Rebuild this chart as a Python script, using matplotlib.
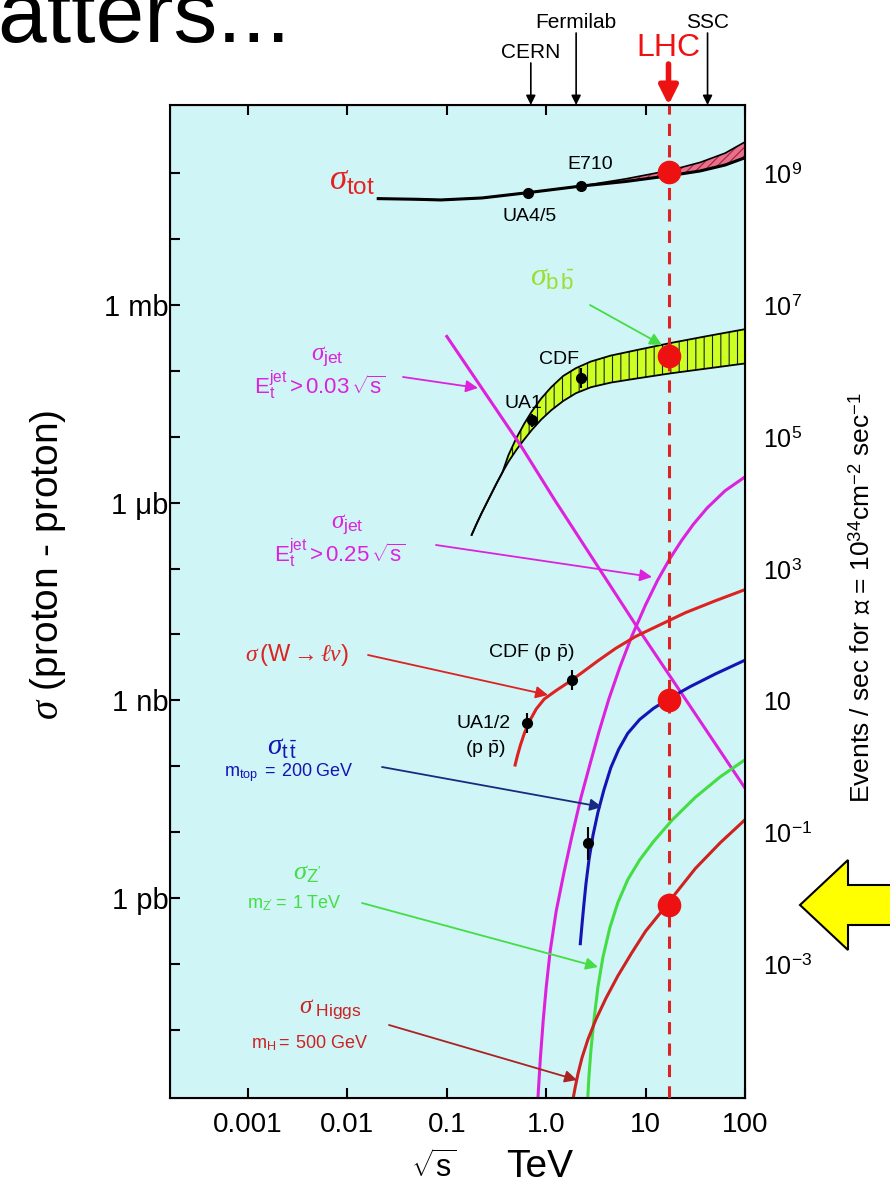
import numpy as np
import matplotlib.pyplot as plt
from matplotlib.patches import Polygon, FancyArrowPatch

plt.rcParams['font.family'] = ['Liberation Sans', 'STIXGeneral', 'DejaVu Sans']
plt.rcParams['mathtext.fontset'] = 'custom'
plt.rcParams['mathtext.rm'] = 'Liberation Sans'
plt.rcParams['mathtext.sf'] = 'Liberation Sans'
plt.rcParams['mathtext.it'] = 'Liberation Serif:italic'
plt.rcParams['mathtext.bf'] = 'Liberation Sans:bold'
plt.rcParams['hatch.linewidth'] = 0.8

W, H = 890, 1187

# collider energies (TeV) shown on top
colliders = ["CERN", "Fermilab", "LHC", "SSC"]
collider_E = [0.7, 2.0, 17.0, 42.0]

# all curves: log10(sqrt(s)/TeV) and log10(events/sec at L=1e34)
tot_lx = [-1.69, -1.3, -1.06, -0.646, -0.187, 0.347, 0.8, 1.25, 1.55, 1.8, 2.0]
tot_lo = [8.61, 8.60, 8.59, 8.62, 8.70, 8.80, 8.87, 8.96, 9.03, 9.12, 9.23]
tot_hi = [8.61, 8.60, 8.59, 8.62, 8.70, 8.80, 8.91, 9.04, 9.16, 9.30, 9.47]

bb_lx = [-0.75, -0.70, -0.65, -0.60, -0.55, -0.50, -0.44, -0.38, -0.30, -0.22, -0.146, -0.05, 0.05,
         0.17, 0.30, 0.45, 0.65, 0.90, 1.25, 1.6, 2.0]
bb_lo = [3.51, 3.68, 3.84, 3.99, 4.14, 4.29, 4.46, 4.62, 4.80, 4.96, 5.10, 5.26, 5.40,
         5.54, 5.66, 5.75, 5.82, 5.88, 5.96, 6.03, 6.11]
bb_hi = [3.51, 3.68, 3.84, 3.99, 4.14, 4.29, 4.46, 4.72, 4.98, 5.20, 5.38, 5.58, 5.75,
         5.92, 6.04, 6.14, 6.23, 6.31, 6.42, 6.52, 6.63]

jet1_lx = [-1.0, -0.25, 0.085, 0.92, 2.0]
jet1_ly = [6.52, 4.85, 4.04, 2.10, -0.33]

jet2_lx = [-0.083, -0.06, -0.03, 0.0, 0.04, 0.1, 0.18, 0.26, 0.35, 0.44, 0.53, 0.63, 0.74, 0.86,
           1.0, 1.12, 1.24, 1.36, 1.48, 1.62, 1.8, 2.0]
jet2_ly = [-5.03, -4.45, -3.85, -3.35, -2.80, -2.20, -1.60, -1.05, -0.47, 0.03, 0.52, 1.02, 1.50, 1.97,
           2.45, 2.82, 3.14, 3.42, 3.67, 3.92, 4.18, 4.39]

w_lx = [-0.313, -0.29, -0.26, -0.22, -0.17, -0.10, -0.02, 0.10, 0.22, 0.35, 0.52, 0.70, 0.90,
        1.15, 1.4, 1.7, 2.0]
w_ly = [0.02, 0.16, 0.32, 0.50, 0.68, 0.87, 1.02, 1.15, 1.27, 1.41, 1.60, 1.79, 1.97,
        2.15, 2.33, 2.51, 2.68]

tt_lx = [0.343, 0.36, 0.38, 0.40, 0.43, 0.47, 0.52, 0.58, 0.65, 0.73, 0.82, 0.94, 1.08, 1.25,
         1.45, 1.7, 2.0]
tt_ly = [-2.69, -2.40, -2.08, -1.78, -1.42, -1.05, -0.70, -0.36, -0.02, 0.26, 0.50, 0.71, 0.88, 1.04,
         1.21, 1.40, 1.61]

zp_lx = [0.418, 0.43, 0.45, 0.48, 0.52, 0.57, 0.64, 0.72, 0.82, 0.94, 1.08, 1.27, 1.5, 1.75, 2.0]
zp_ly = [-5.03, -4.70, -4.30, -3.85, -3.35, -2.90, -2.45, -2.07, -1.72, -1.42, -1.14, -0.81, -0.47,
         -0.16, 0.10]

hig_lx = [0.272, 0.29, 0.32, 0.36, 0.42, 0.50, 0.60, 0.72, 0.86, 1.0, 1.15, 1.3, 1.5, 1.75, 2.0]
hig_ly = [-5.03, -4.88, -4.66, -4.42, -4.14, -3.84, -3.52, -3.18, -2.83, -2.50, -2.22, -1.93, -1.55,
          -1.16, -0.81]

# measurements (UA4/5, E710, UA1, CDF, UA1/2, CDF W, CDF top)
pts_lx = [-0.187, 0.347, -0.146, 0.355, -0.195, 0.264, 0.418]
pts_ly = [8.70, 8.80, 5.25, 5.89, 0.66, 1.31, -1.17]
pts_err = [0.0, 0.0, 0.1, 0.15, 0.15, 0.15, 0.25]

# LHC points on tot, bb, tt, Higgs
lhc_ly = [9.02, 6.22, 1.01, -2.10]

left_ticks = [7, 4, 1, -2]
left_labels = ["1 mb", "1 \u03bcb", "1 nb", "1 pb"]
right_ticks = [9, 7, 5, 3, 1, -1, -3]
right_labels = [r"10$^{9}$", r"10$^{7}$", r"10$^{5}$", r"10$^{3}$", "10", r"10$^{-1}$", r"10$^{-3}$"]
x_ticks = [0.001, 0.01, 0.1, 1.0, 10, 100]
x_labels = ["0.001", "0.01", "0.1", "1.0", "10", "100"]


def p(a):
    return 10 ** np.array(a, dtype=float)


def fx(x, y):
    # pixel (from top-left) -> figure fraction
    return x / W, 1 - y / H


fig = plt.figure(figsize=(W / 100, H / 100), dpi=100)
ax = fig.add_axes([170 / W, 1 - 1098 / H, 575 / W, (1098 - 105) / H])
ax.set_facecolor('#cff5f7')
ax.set_xscale('log')
ax.set_yscale('log')
ax.set_xlim(10 ** -3.785, 100)
ax.set_ylim(10 ** -5.03, 10 ** 10.03)

# sigma tot band
ax.fill_between(p(tot_lx), p(tot_lo), p(tot_hi), facecolor='#e8708a', edgecolor='#a02040',
                hatch='////', linewidth=0)
ax.plot(p(tot_lx), p(tot_lo), color='black', lw=2.2)
ax.plot(p(tot_lx), p(tot_hi), color='black', lw=1.2)

# b bbar band
ax.fill_between(p(bb_lx), p(bb_lo), p(bb_hi), facecolor='#ccff22', edgecolor='#222222',
                hatch='||', linewidth=0)
ax.plot(p(bb_lx), p(bb_lo), color='black', lw=1.3)
ax.plot(p(bb_lx), p(bb_hi), color='black', lw=1.3)

ax.plot(p(jet1_lx), p(jet1_ly), color='#dd22dd', lw=2.2)
ax.plot(p(jet2_lx), p(jet2_ly), color='#dd22dd', lw=2.2)
ax.plot(p(w_lx), p(w_ly), color='#dd2222', lw=2.2)
ax.plot(p(tt_lx), p(tt_ly), color='#1515b5', lw=2.2)
ax.plot(p(zp_lx), p(zp_ly), color='#44dd44', lw=2.2)
ax.plot(p(hig_lx), p(hig_ly), color='#cc2222', lw=2.2)

# LHC line and dots
lhc = collider_E[2]
ax.axvline(lhc, color='#dd2222', lw=2.2, ls=(0, (4, 3)), zorder=4)
ax.plot([lhc] * len(lhc_ly), p(lhc_ly), 'o', color='#ee1111', ms=16, zorder=5)

# measurements
px_ = p(pts_lx)
py_ = p(pts_ly)
lo = py_ - p(np.array(pts_ly) - np.array(pts_err))
hi = p(np.array(pts_ly) + np.array(pts_err)) - py_
ax.errorbar(px_, py_, yerr=[lo, hi], fmt='o', color='black', ms=7, elinewidth=1.5,
            capsize=0, zorder=6)

# ticks
ax.set_xticks(x_ticks, labels=x_labels)
ax.minorticks_off()
ylabs = []
for k in range(-4, 10):
    ylabs.append(left_labels[left_ticks.index(k)] if k in left_ticks else "")
ax.set_yticks(p(list(range(-4, 10))), labels=ylabs)
ax.tick_params(axis='both', which='major', direction='in', length=7, width=1.5,
               top=True, right=True)
ax.tick_params(axis='x', labelsize=20, pad=10)
ax.tick_params(axis='y', labelsize=21, pad=1)
for s in ax.spines.values():
    s.set_linewidth(1.5)

ax2 = ax.twinx()
ax2.set_yscale('log')
ax2.set_ylim(ax.get_ylim())
rl = []
for k in range(-4, 10):
    rl.append(right_labels[right_ticks.index(k)] if k in right_ticks else "")
ax2.set_yticks(p(list(range(-4, 10))), labels=rl)
ax2.minorticks_off()
ax2.tick_params(axis='y', direction='in', length=0, labelsize=18, pad=13)

# axis titles
fig.text(*fx(434, 1167), r"$\sqrt{\mathrm{s}}$", fontsize=22, ha='center', va='center')
fig.text(*fx(540, 1167), "TeV", fontsize=28, ha='center', va='center')
fig.text(*fx(48, 565), r"$\sigma$ (proton - proton)", fontsize=28, rotation=90,
         ha='center', va='center')
fig.text(*fx(861, 598), "Events / sec for \u2112 = 10$^{34}$cm$^{-2}$ sec$^{-1}$",
         fontsize=19, rotation=90, ha='center', va='center')

# top slide text
fig.text(-75 / W, 1 - 42 / H, "matters...", fontsize=63, va='baseline', ha='left')

# collider arrows
tops = {"CERN": (52, 63), "Fermilab": (22, 33), "SSC": (22, 33), "LHC": (48, 64)}
for name, e in zip(colliders, collider_E):
    ty, ay = tops[name]
    xpix = ax.transData.transform((e, 1))[0]
    if name == "LHC":
        fig.text(xpix / W, 1 - ty / H, name, color='#ee1111', fontsize=23, ha='center', va='center')
        ax.annotate("", xy=(e, 1.0), xycoords=('data', 'axes fraction'),
                    xytext=(xpix, H - ay), textcoords='figure pixels',
                    arrowprops=dict(arrowstyle='-|>', color='#ee1111', lw=4, mutation_scale=28,
                                    shrinkA=0, shrinkB=0))
    else:
        fig.text(xpix / W, 1 - ty / H, name, fontsize=15, ha='center', va='center')
        ax.annotate("", xy=(e, 1.0), xycoords=('data', 'axes fraction'),
                    xytext=(xpix, H - ay), textcoords='figure pixels',
                    arrowprops=dict(arrowstyle='-|>', color='black', lw=1.2, mutation_scale=14,
                                    shrinkA=0, shrinkB=0))


# labels inside
def lab(x, y, s, c='black', fs=14):
    fig.text(*fx(x, y), s, color=c, fontsize=fs, ha='center', va='center')


def arr(x0, y0, x1, y1, c):
    fig.add_artist(FancyArrowPatch(
        fx(x0, y0), fx(x1, y1), transform=fig.transFigure, arrowstyle='-|>',
        mutation_scale=18, color=c, lw=1.3, shrinkA=0, shrinkB=0))


lab(352, 180, r"$\sigma_{\mathrm{tot}}$", '#e82020', 25)
lab(590, 165, "E710")
lab(530, 217, "UA4/5")
lab(552, 278, r"$\sigma_{\mathrm{b\,\bar{b}}}$", '#99e030', 23)
arr(590, 305, 662, 345, '#44dd44')
lab(559, 360, "CDF")
lab(523, 403, "UA1")

lab(327, 357, r"$\sigma_{\mathrm{jet}}$", '#dd22dd', 18)
lab(320, 385, r"$\mathrm{E}_{\mathrm{t}}^{\mathrm{jet}}\mathrm{>0.03}\,\sqrt{\mathrm{s}}$", '#dd22dd', 16)
arr(403, 377, 478, 388, '#dd22dd')
lab(347, 525, r"$\sigma_{\mathrm{jet}}$", '#dd22dd', 18)
lab(340, 553, r"$\mathrm{E}_{\mathrm{t}}^{\mathrm{jet}}\mathrm{>0.25}\,\sqrt{\mathrm{s}}$", '#dd22dd', 16)
arr(436, 545, 652, 577, '#dd22dd')

lab(297, 655, r"$\sigma\,\mathrm{(W\rightarrow}\ell\nu\mathrm{)}$", '#dd2222', 17)
arr(368, 655, 548, 695, '#dd2222')
lab(531, 653, r"CDF (p $\mathrm{\bar{p}}$)")
lab(484, 723, "UA1/2")
lab(485, 749, r"(p $\mathrm{\bar{p}}$)")

lab(282, 747, r"$\sigma_{\mathrm{t\,\bar{t}}}$", '#1515b5', 21)
lab(289, 773, r"$\mathrm{m}_{\mathrm{top}}\mathrm{\ =\ 200\ GeV}$", '#1515b5', 13)
arr(382, 767, 602, 807, '#1a2a80')

lab(307, 873, r"$\sigma_{\mathrm{Z'}}$", '#44dd44', 19)
lab(294, 903, r"$\mathrm{m}_{\mathrm{Z'}}\mathrm{=\ 1\ TeV}$", '#44dd44', 13)
arr(362, 903, 598, 967, '#44dd44')

lab(330, 1010, r"$\sigma_{\ \mathrm{Higgs}}$", '#cc2222', 18)
lab(310, 1043, r"$\mathrm{m}_{\mathrm{H}}\mathrm{=\ 500\ GeV}$", '#cc2222', 13)
arr(389, 1025, 577, 1080, '#aa2222')

# yellow arrow on the right
yarrow = [(800, 905), (848, 860), (848, 885), (900, 885), (900, 925), (848, 925), (848, 950)]
fig.add_artist(Polygon([fx(x, y) for x, y in yarrow], closed=True, transform=fig.transFigure,
                       facecolor='#ffff00', edgecolor='black', lw=1.5))

fig.savefig('out.png', dpi=100)
